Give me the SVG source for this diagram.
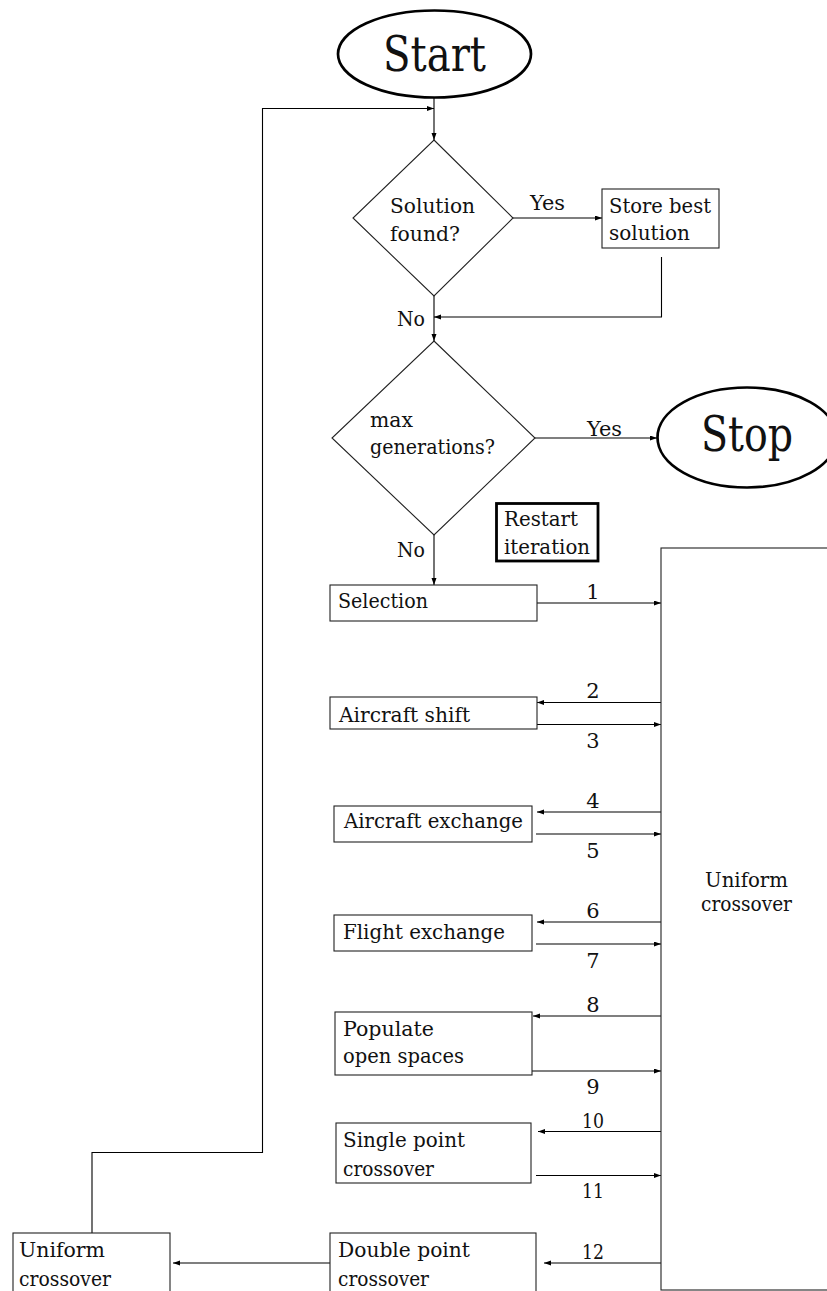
<svg xmlns="http://www.w3.org/2000/svg" width="827" height="1291" viewBox="0 0 827 1291">
  <style>
    text { font-family: 'DejaVu Serif', serif; font-size: 21px; fill: #111; }
    .big { font-size: 48px; }
    .num { text-anchor: middle; }
    .mid { text-anchor: middle; }
    .box { fill: #fff; stroke: #222; stroke-width: 1.1; }
    .term { fill: #fff; stroke: #000; stroke-width: 2.7; }
    .bold { fill: #fff; stroke: #000; stroke-width: 2.8; }
    .c { fill: none; stroke: #000; stroke-width: 1.1; }
    .a { marker-end: url(#arr); }
  </style>
  <defs>
    <marker id="arr" markerUnits="userSpaceOnUse" markerWidth="8" markerHeight="6" refX="7" refY="2.5" orient="auto">
      <path d="M0,0 L7,2.5 L0,5 Z" fill="#000"/>
    </marker>
  </defs>

  <rect width="827" height="1291" fill="#fff"/>

  <!-- connectors -->
  <g id="connectors">
    <line class="c a" x1="434" y1="98" x2="434" y2="140"/>
    <polyline class="c a" points="92,1233 92,1152.5 262.5,1152.5 262.5,108.5 434,108.5"/>
    <line class="c a" x1="513" y1="218" x2="602" y2="218"/>
    <polyline class="c a" points="661.5,257 661.5,317 434,317"/>
    <line class="c a" x1="434" y1="296" x2="434" y2="341"/>
    <line class="c a" x1="535" y1="438" x2="657" y2="438"/>
    <line class="c a" x1="434" y1="535" x2="434" y2="585"/>
    <!-- selection and operators to/from the crossover block -->
    <line class="c a" x1="537" y1="603" x2="661" y2="603"/>
    <line class="c a" x1="661" y1="702.5" x2="537" y2="702.5"/>
    <line class="c a" x1="537" y1="724.5" x2="661" y2="724.5"/>
    <line class="c a" x1="661" y1="812" x2="537" y2="812"/>
    <line class="c a" x1="536" y1="834" x2="661" y2="834"/>
    <line class="c a" x1="661" y1="922" x2="537" y2="922"/>
    <line class="c a" x1="536" y1="944" x2="661" y2="944"/>
    <line class="c a" x1="661" y1="1016" x2="533" y2="1016"/>
    <line class="c a" x1="531" y1="1071" x2="661" y2="1071"/>
    <line class="c a" x1="661" y1="1131.5" x2="538" y2="1131.5"/>
    <line class="c a" x1="536" y1="1175.5" x2="661" y2="1175.5"/>
    <line class="c a" x1="661" y1="1263" x2="544" y2="1263"/>
    <line class="c a" x1="330" y1="1263" x2="173" y2="1263"/>
    <!-- edge labels -->
    <text x="530" y="210" textLength="35" lengthAdjust="spacingAndGlyphs">Yes</text>
    <text x="397" y="326" textLength="28" lengthAdjust="spacingAndGlyphs">No</text>
    <text x="587" y="436" textLength="35" lengthAdjust="spacingAndGlyphs">Yes</text>
    <text x="397" y="557" textLength="28" lengthAdjust="spacingAndGlyphs">No</text>
    <text class="num" x="593" y="599">1</text>
    <text class="num" x="593" y="698">2</text>
    <text class="num" x="593" y="748">3</text>
    <text class="num" x="593" y="808">4</text>
    <text class="num" x="593" y="858">5</text>
    <text class="num" x="593" y="918">6</text>
    <text class="num" x="593" y="968">7</text>
    <text class="num" x="593" y="1012">8</text>
    <text class="num" x="593" y="1094">9</text>
    <text class="num" x="593" y="1128" textLength="22" lengthAdjust="spacingAndGlyphs">10</text>
    <text class="num" x="593" y="1198" textLength="22" lengthAdjust="spacingAndGlyphs">11</text>
    <text class="num" x="593" y="1259" textLength="22" lengthAdjust="spacingAndGlyphs">12</text>
  </g>

  <g id="start">
    <ellipse class="term" cx="434.5" cy="54" rx="96.5" ry="43.5"/>
    <text class="big mid" x="434.5" y="71" textLength="103" lengthAdjust="spacingAndGlyphs">Start</text>
  </g>

  <g id="solution-found">
    <polygon class="box" points="434,140 513,218 434,296 353,218"/>
    <text x="390" y="213" textLength="85" lengthAdjust="spacingAndGlyphs">Solution</text>
    <text x="390" y="241" textLength="70" lengthAdjust="spacingAndGlyphs">found?</text>
  </g>

  <g id="store-best">
    <rect class="box" x="602" y="189" width="117" height="59"/>
    <text x="609" y="213" textLength="102" lengthAdjust="spacingAndGlyphs">Store best</text>
    <text x="609" y="240" textLength="81" lengthAdjust="spacingAndGlyphs">solution</text>
  </g>

  <g id="max-generations">
    <polygon class="box" points="434,341 535,438 434,535 332,438"/>
    <text x="370" y="427" textLength="43" lengthAdjust="spacingAndGlyphs">max</text>
    <text x="370" y="454" textLength="125" lengthAdjust="spacingAndGlyphs">generations?</text>
  </g>

  <g id="stop">
    <ellipse class="term" cx="747" cy="437.5" rx="89.5" ry="50"/>
    <text class="big mid" x="747" y="451" textLength="92" lengthAdjust="spacingAndGlyphs">Stop</text>
  </g>

  <g id="restart">
    <rect class="bold" x="496.5" y="503.5" width="101.5" height="57.5"/>
    <text x="504" y="526" textLength="74" lengthAdjust="spacingAndGlyphs">Restart</text>
    <text x="504" y="554" textLength="86" lengthAdjust="spacingAndGlyphs">iteration</text>
  </g>

  <g id="selection">
    <rect class="box" x="330" y="585" width="207" height="36"/>
    <text x="338" y="608" textLength="90" lengthAdjust="spacingAndGlyphs">Selection</text>
  </g>

  <g id="aircraft-shift">
    <rect class="box" x="330" y="697" width="207" height="32"/>
    <text x="339" y="722" textLength="131" lengthAdjust="spacingAndGlyphs">Aircraft shift</text>
  </g>

  <g id="aircraft-exchange">
    <rect class="box" x="334" y="806" width="198" height="36"/>
    <text x="344" y="828" textLength="179" lengthAdjust="spacingAndGlyphs">Aircraft exchange</text>
  </g>

  <g id="flight-exchange">
    <rect class="box" x="334" y="915" width="198" height="36"/>
    <text x="343" y="939" textLength="162" lengthAdjust="spacingAndGlyphs">Flight exchange</text>
  </g>

  <g id="populate">
    <rect class="box" x="335" y="1012" width="197" height="63"/>
    <text x="343" y="1036" textLength="91" lengthAdjust="spacingAndGlyphs">Populate</text>
    <text x="343" y="1063" textLength="121" lengthAdjust="spacingAndGlyphs">open spaces</text>
  </g>

  <g id="single-point">
    <rect class="box" x="336" y="1123" width="195" height="60"/>
    <text x="343" y="1147" textLength="122" lengthAdjust="spacingAndGlyphs">Single point</text>
    <text x="343" y="1176" textLength="91" lengthAdjust="spacingAndGlyphs">crossover</text>
  </g>

  <g id="double-point">
    <rect class="box" x="330" y="1233" width="206" height="70"/>
    <text x="338" y="1257" textLength="132" lengthAdjust="spacingAndGlyphs">Double point</text>
    <text x="338" y="1286" textLength="91" lengthAdjust="spacingAndGlyphs">crossover</text>
  </g>

  <g id="uniform-left">
    <rect class="box" x="13" y="1233" width="157" height="70"/>
    <text x="19" y="1257" textLength="86" lengthAdjust="spacingAndGlyphs">Uniform</text>
    <text x="19" y="1286" textLength="92" lengthAdjust="spacingAndGlyphs">crossover</text>
  </g>

  <g id="uniform-block">
    <rect class="box" x="661" y="548" width="175" height="742"/>
    <text class="mid" x="746.5" y="887" textLength="83" lengthAdjust="spacingAndGlyphs">Uniform</text>
    <text class="mid" x="746.5" y="911" textLength="91" lengthAdjust="spacingAndGlyphs">crossover</text>
  </g>
</svg>
